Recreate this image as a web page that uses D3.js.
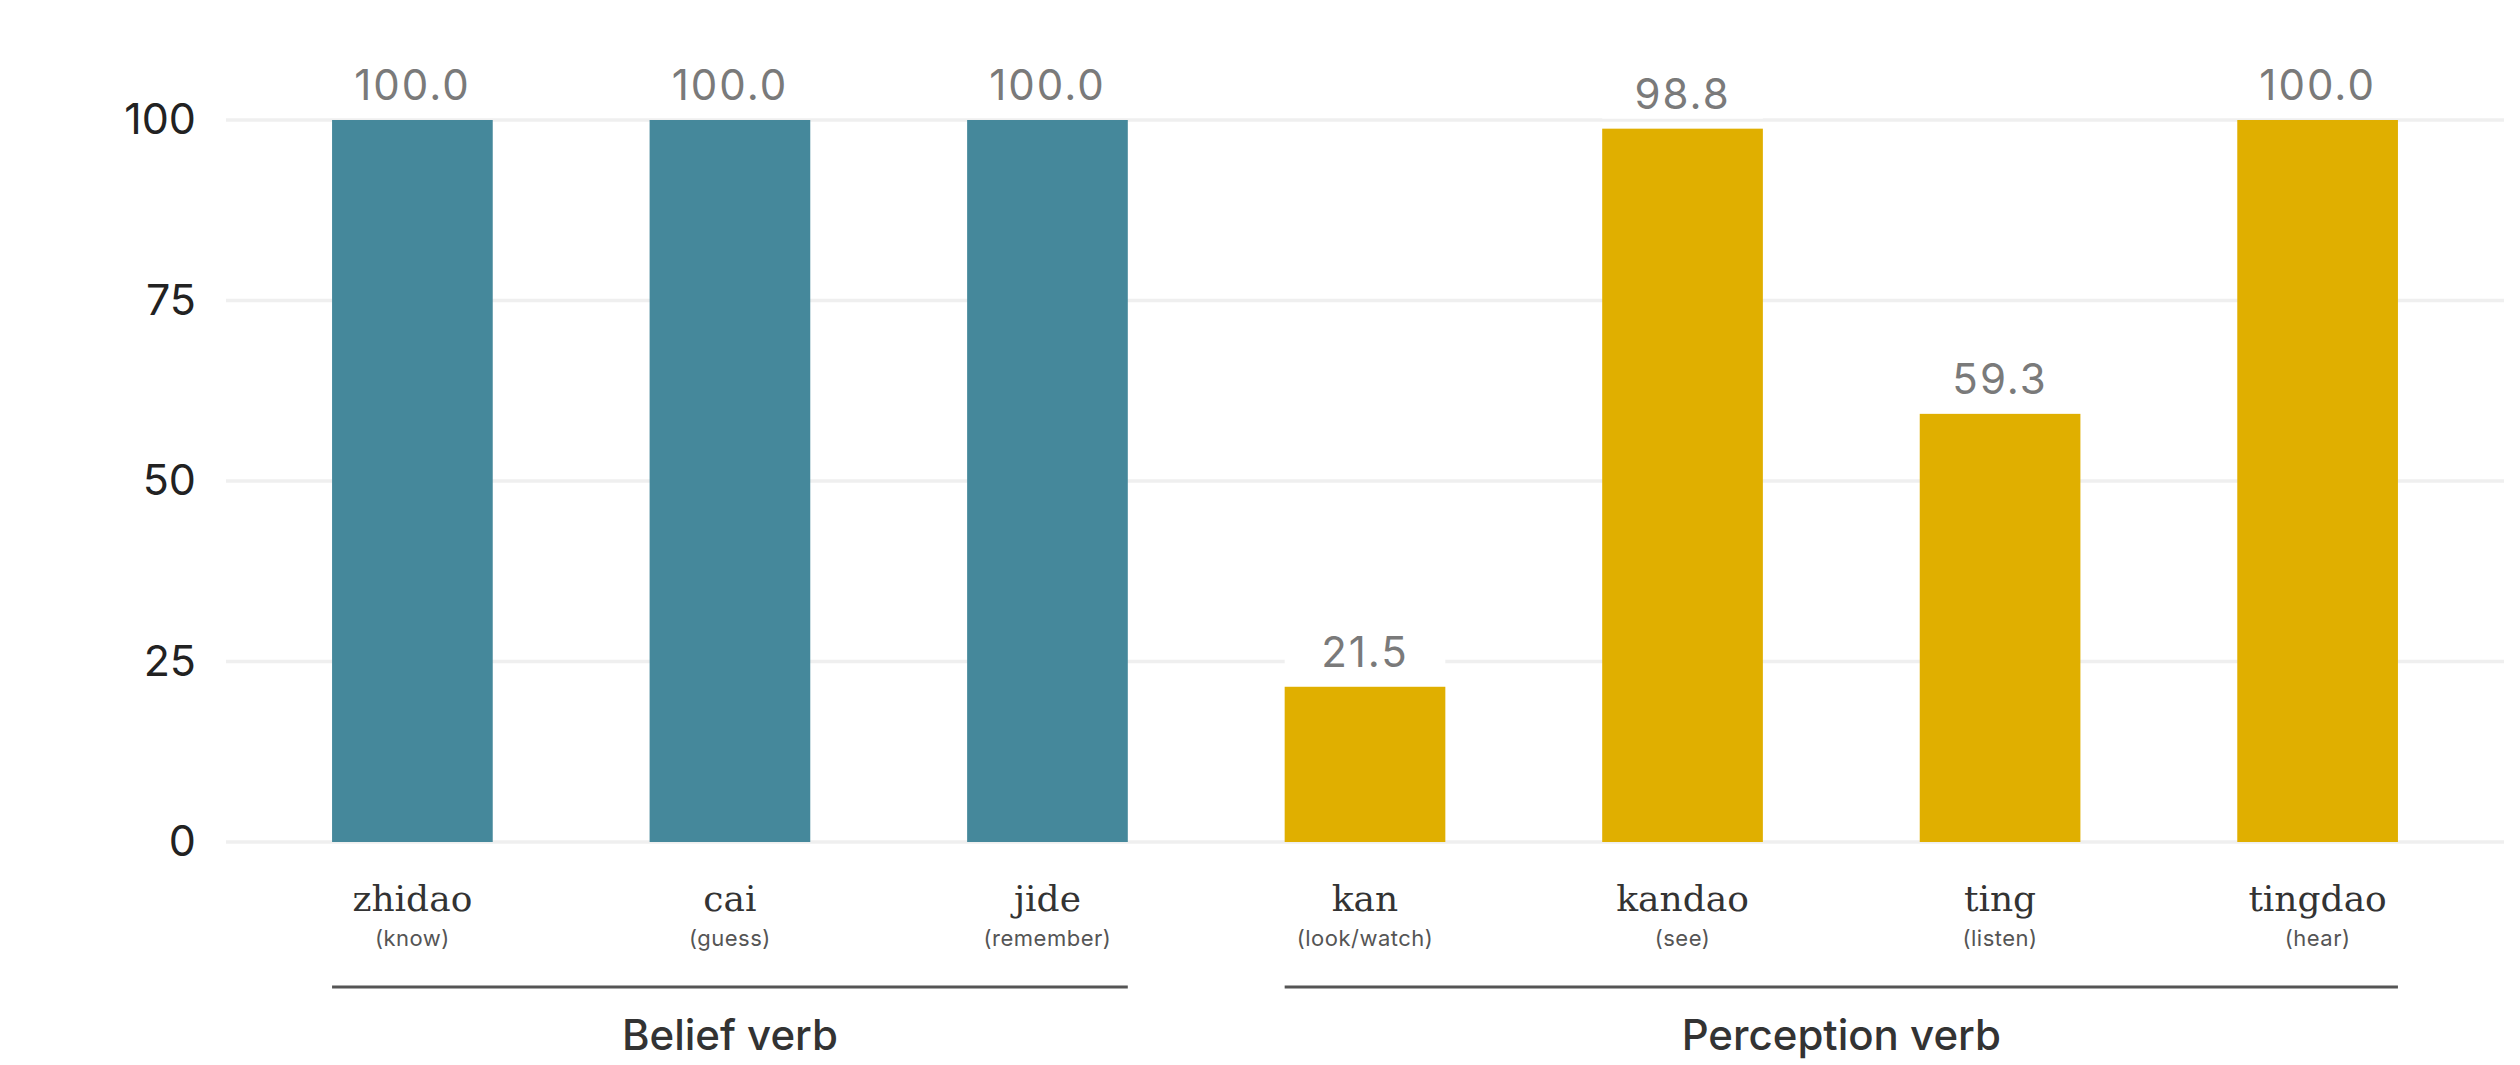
<!DOCTYPE html>
<html>
<head>
<meta charset="utf-8">
<script src="https://cdn.jsdelivr.net/npm/d3@7"></script>
<style>
  body { margin: 0; background: #fff; }
  svg { display: block; }
</style>
</head>
<body>
<script>
// données
const verbs = ["zhidao", "cai", "jide", "kan", "kandao", "ting", "tingdao"]
const glosses = ["(know)", "(guess)", "(remember)", "(look/watch)", "(see)", "(listen)", "(hear)"]
const values = [100.0, 100.0, 100.0, 21.5, 98.8, 59.3, 100.0]
const verbGroup = ["Belief verb", "Belief verb", "Belief verb", "Perception verb", "Perception verb", "Perception verb", "Perception verb"]
const groups = ["Belief verb", "Perception verb"]
const yTicks = [0, 25, 50, 75, 100]

const colors = { "Belief verb": "#45889b", "Perception verb": "#e0af00" }

const width = 2520
const height = 1065

const svg = d3.select("body").append("svg")
    .attr("width", width)
    .attr("height", height)

const x = d3.scaleBand()
    .domain(verbs)
    .range([226, 2504])
    .paddingInner(0.494)
    .paddingOuter(0.334)

const y = d3.scaleLinear()
    .domain([0, 100])
    .range([842, 120])

// grille horizontale
svg.append("g")
    .selectAll("line")
    .data(yTicks)
    .enter()
    .append("line")
    .attr("x1", 226)
    .attr("x2", 2504)
    .attr("y1", d => y(d))
    .attr("y2", d => y(d))
    .attr("stroke", "#efefef")
    .attr("stroke-width", 3.5)

// axe y, seulement les étiquettes
const yAxis = svg.append("g")
    .attr("transform", "translate(226,0)")
    .call(d3.axisLeft(y).tickValues(yTicks).tickSize(0).tickPadding(30))
yAxis.select(".domain").remove()
yAxis.selectAll("text")
    .attr("font-family", "Inter, 'Open Sans', sans-serif")
    .attr("font-size", 43)
    .attr("fill", "#222")

const rows = verbs.map((v, i) => ({ verb: v, gloss: glosses[i], value: values[i], group: verbGroup[i] }))

// barres
svg.selectAll("rect.bar")
    .data(rows)
    .enter()
    .append("rect")
    .attr("class", "bar")
    .attr("x", d => x(d.verb))
    .attr("y", d => y(d.value))
    .attr("width", x.bandwidth())
    .attr("height", d => y(0) - y(d.value))
    .attr("fill", d => colors[d.group])

// étiquettes de valeur avec fond blanc
const lab = svg.selectAll("g.lab")
    .data(rows)
    .enter()
    .append("g")
    .attr("class", "lab")
    .attr("transform", d => `translate(${x(d.verb) + x.bandwidth() / 2},${y(d.value) - 20})`)

lab.append("rect")
    .attr("x", -x.bandwidth() / 2)
    .attr("y", -44)
    .attr("width", x.bandwidth())
    .attr("height", 54)
    .attr("fill", "#fff")

lab.append("text")
    .attr("text-anchor", "middle")
    .attr("font-family", "Inter, 'Open Sans', sans-serif")
    .attr("font-size", 42)
    .attr("letter-spacing", 2)
    .attr("fill", "#7a7a7a")
    .text(d => d.value.toFixed(1))

// noms des verbes
svg.selectAll("text.verb")
    .data(rows)
    .enter()
    .append("text")
    .attr("class", "verb")
    .attr("x", d => x(d.verb) + x.bandwidth() / 2)
    .attr("y", 911)
    .attr("text-anchor", "middle")
    .attr("font-family", "'DejaVu Serif', serif")
    .attr("font-size", 36)
    .attr("fill", "#333")
    .text(d => d.verb)

svg.selectAll("text.gloss")
    .data(rows)
    .enter()
    .append("text")
    .attr("class", "gloss")
    .attr("x", d => x(d.verb) + x.bandwidth() / 2)
    .attr("y", 946)
    .attr("text-anchor", "middle")
    .attr("font-family", "Inter, 'Open Sans', sans-serif")
    .attr("font-size", 22)
    .attr("letter-spacing", 0.5)
    .attr("fill", "#555")
    .text(d => d.gloss)

// crochets de groupe
groups.forEach(g => {
    const members = rows.filter(r => r.group === g)
    const x0 = x(members[0].verb)
    const x1 = x(members[members.length - 1].verb) + x.bandwidth()
    svg.append("line")
        .attr("x1", x0)
        .attr("x2", x1)
        .attr("y1", 987)
        .attr("y2", 987)
        .attr("stroke", "#555")
        .attr("stroke-width", 3)
    svg.append("text")
        .attr("x", (x0 + x1) / 2)
        .attr("y", 1050)
        .attr("text-anchor", "middle")
        .attr("font-family", "Inter, 'Open Sans', sans-serif")
        .attr("font-size", 42)
        .attr("font-weight", 500)
        .attr("fill", "#333")
        .text(g)
})
</script>
</body>
</html>
